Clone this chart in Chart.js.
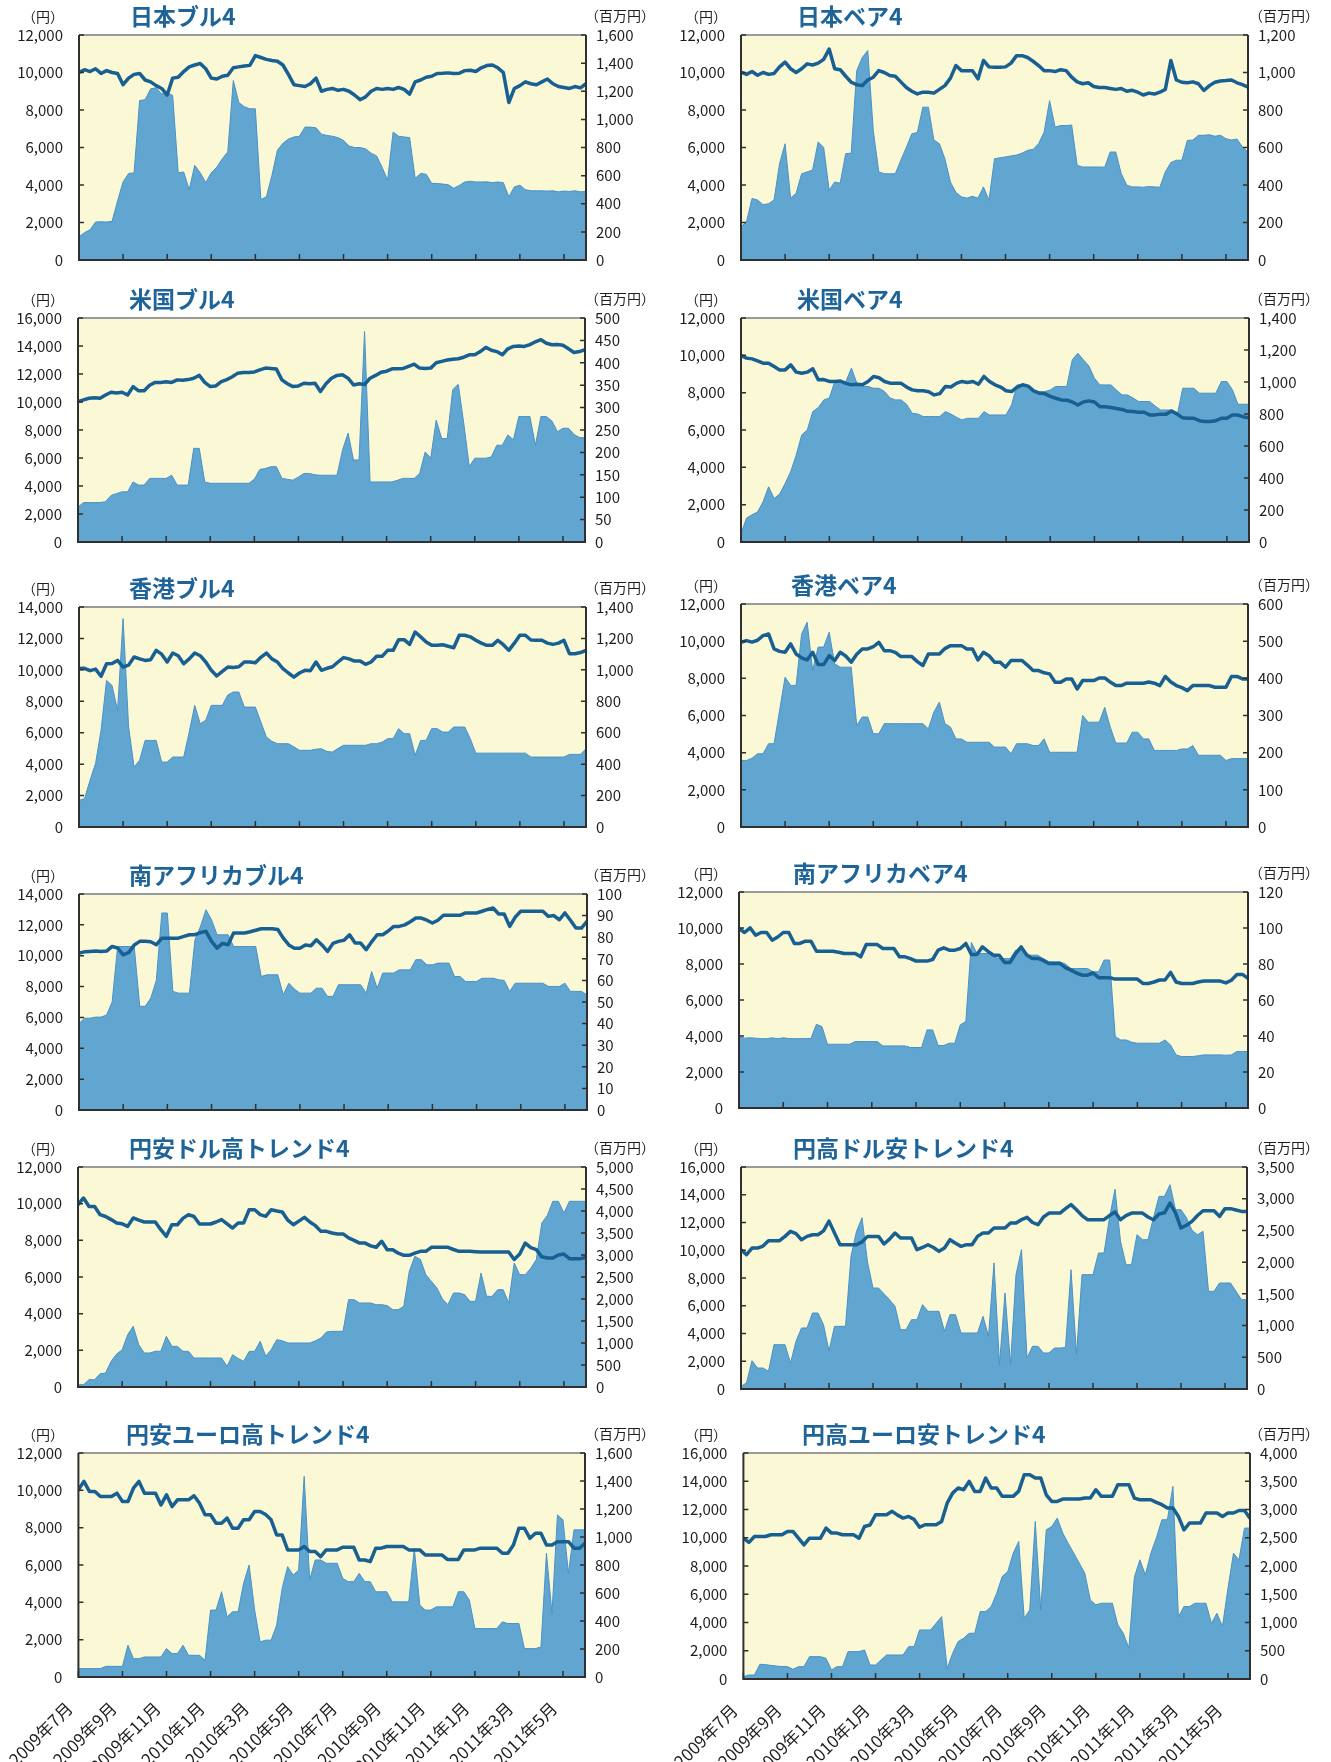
<!DOCTYPE html>
<html><head><meta charset="utf-8">
<script src="https://cdn.jsdelivr.net/npm/chart.js@4/dist/chart.umd.min.js"></script>
<style>
html,body{margin:0;padding:0;background:#fff;}
#wrap{position:relative;width:1331px;height:1762px;overflow:hidden;background:#fff;}
#wrap canvas{position:absolute;}
</style></head>
<body><div id="wrap"></div>
<script>
// ---- time grid: samples every quarter month from 2009年7月 ----
const STEP = 0.25;
const xTickMonths = [0,2,4,6,8,10,12,14,16,18,20,22];
const xTickLabels = ['2009年7月','2009年9月','2009年11月','2010年1月','2010年3月','2010年5月','2010年7月','2010年9月','2010年11月','2011年1月','2011年3月','2011年5月'];

// ---- 日本ブル4 ----
const jpBullPrice = [
10000,10150,10050,10200, 9950,10100,10000,9950, 9350,9700,9900,9950, 9600,9500,9300,9150,
8800,9700,9750,10050, 10300,10400,10480,10200, 9700,9650,9800,9850, 10250,10300,10350,10380,
10900,10800,10700,10640, 10600,10400,9900,9350, 9300,9250,9400,9700, 9000,9100,9150,9050,
9100,9000,8800,8550, 8700,9000,9150,9100, 9150,9100,9200,9100, 8850,9500,9600,9750,
9800,9950,9960,9980, 9950,9960,10100,10120, 10050,10250,10370,10400, 10250,10000,8400,9150,
9300,9500,9400,9350, 9500,9650,9400,9250, 9200,9150,9250,9180, 9400];
const jpBullAssets = [
165,195,215,270, 272,270,275,420, 555,615,620,1134, 1140,1217,1225,1180,
1190,1170,620,626, 500,673,620,550, 620,660,720,768, 1276,1120,1090,1075,
1075,430,449,600, 780,830,860,875, 880,945,945,940, 895,886,880,870,
850,810,800,800, 790,760,740,660, 567,910,880,875, 870,580,615,610,
545,544,540,535, 510,530,555,560, 555,555,556,550, 555,550,449,520,
532,500,492,492, 492,490,492,485, 490,488,492,485, 488];

// ---- 日本ベア4 ----
const jpBearPrice = [
10020,9900,10050,9850, 10000,9900,9950,10300, 10550,10200,10000,10200, 10460,10400,10500,10700,
11250,10200,10150,9800, 9480,9350,9300,9600, 9750,10100,10000,9840, 9800,9500,9200,9000,
8860,8950,8950,8900, 9100,9300,9700,10370, 10100,10100,10100,9660, 10640,10300,10280,10280,
10300,10500,10900,10900, 10800,10600,10370,10100, 10100,10050,10150,10100, 9750,9500,9400,9450,
9250,9200,9200,9150, 9100,9150,9000,9050, 8950,8800,8900,8850, 8950,9100,10640,9600,
9480,9450,9500,9400, 9040,9300,9480,9550, 9570,9600,9450,9350, 9220];
const jpBearAssets = [
177,204,328,320, 295,300,320,514, 620,330,355,460, 470,480,630,600,
372,416,410,567, 570,1010,1080,1117, 691,470,460,460, 460,532,600,673,
680,815,815,640, 620,540,416,360, 337,330,340,330, 390,319,540,545,
550,555,560,570, 585,590,620,682, 850,709,717,717, 720,505,496,496,
496,496,495,576, 576,460,399,390, 390,388,392,390, 388,470,520,532,
532,638,640,665, 665,668,660,665, 647,640,645,603, 576];

// ---- 米国ブル4 ----
const usBullPrice = [
10030,10150,10270,10300, 10270,10500,10700,10650, 10700,10500,11100,10800, 10800,11200,11400,11400,
11450,11400,11580,11550, 11600,11700,11900,11400, 11100,11150,11460,11600, 11800,12060,12100,12100,
12150,12300,12420,12400, 12350,11580,11300,11100, 11150,11340,11300,11340, 10750,11300,11700,11900,
11940,11700,11220,11300, 11250,11700,11900,12130, 12200,12370,12370,12400, 12550,12700,12420,12400,
12420,12800,12900,13000, 13050,13090,13200,13370, 13370,13600,13900,13700, 13600,13370,13800,13970,
14000,13970,14100,14300, 14450,14200,14090,14100, 14050,13800,13540,13600, 13730];
const usBullAssets = [
78,88,88,88, 88,90,104,108, 112,112,134,127, 127,142,142,142,
142,149,127,127, 127,209,209,134, 131,131,131,131, 131,131,131,131,
140,162,164,168, 168,142,140,138, 145,153,153,150, 149,149,149,149,
205,243,183,183, 470,134,134,134, 134,134,138,142, 142,142,153,201,
187,272,231,231, 340,352,265,168, 187,187,187,190, 216,216,239,228,
280,280,280,216, 280,280,270,246, 254,254,240,233, 233];

// ---- 米国ベア4 ----
const usBearPrice = [
9990,9850,9810,9700, 9580,9580,9400,9220, 9220,9490,9100,9040, 9100,9280,8690,8700,
8600,8600,8620,8500, 8420,8450,8420,8600, 8870,8800,8600,8510, 8500,8500,8300,8150,
8100,8100,8050,7880, 7950,8330,8300,8500, 8600,8550,8600,8450, 8870,8600,8420,8300,
8100,8060,8300,8420, 8350,8100,7970,7950, 7800,7700,7610,7600, 7500,7340,7500,7560,
7500,7250,7250,7200, 7150,7100,7000,6990, 6950,6950,6810,6810, 6850,6850,7020,6850,
6650,6630,6630,6500, 6450,6450,6500,6630, 6630,6810,6800,6700, 6660];
const usBearAssets = [
52,150,170,188, 251,345,272,300, 366,440,543,669, 700,815,840,888,
900,1003,1003,1003, 1087,990,972,972, 961,961,940,900, 888,888,860,805,
800,784,784,784, 784,815,800,780, 763,773,773,773, 815,794,794,794,
794,857,982,982, 960,940,940,940, 950,972,972,972, 1139,1180,1139,1100,
1024,982,982,982, 950,919,919,900, 878,878,878,850, 825,825,825,794,
961,961,961,930, 930,930,930,1003, 1003,951,861,861, 861];

// ---- 香港ブル4 ----
const hkBullPrice = [
10080,10100,9950,10050, 9590,10390,10400,10600, 10180,10300,10820,10700, 10600,10650,11240,11000,
10500,11070,10900,10390, 10700,11070,10900,10500, 9970,9610,9900,10180, 10150,10200,10500,10500,
10450,10800,11070,10700, 10500,10080,9800,9540, 9800,9970,9950,10500, 9970,10100,10200,10500,
10780,10700,10560,10560, 10350,10500,10860,10860, 11240,11240,11920,11920, 11620,12410,12100,11770,
11560,11560,11600,11500, 11410,12200,12200,12100, 11880,11700,11560,11560, 11880,11600,11240,11700,
12200,12200,11900,11880, 11880,11700,11620,11700, 11880,11030,11030,11100, 11240];
const hkBullAssets = [
170,180,297,403, 615,933,900,742, 1326,636,382,424, 551,551,551,413,
413,445,445,445, 604,774,657,679, 774,774,774,840, 859,859,763,763,
763,668,573,545, 530,530,530,510, 488,488,488,495, 498,480,477,500,
520,520,520,520, 520,530,530,540, 562,562,626,594, 594,456,551,551,
626,626,604,604, 636,636,636,562, 470,470,470,470, 470,470,470,470,
470,470,445,445, 445,445,445,445, 445,462,462,462, 498];

// ---- 香港ベア4 ----
const hkBearPrice = [
9940,10030,9950,10050, 10300,10390,9580,9450, 9400,9850,9310,9100, 8990,9400,8740,8740,
9220,8960,9400,9200, 8870,9300,9580,9580, 9700,9940,9490,9490, 9400,9170,9170,9170,
8900,8690,9310,9310, 9310,9600,9760,9760, 9760,9580,9580,8990, 9400,9220,8870,8870,
8600,8960,8960,8960, 8700,8420,8420,8300, 8240,7790,7790,7970, 7970,7430,7880,7880,
7880,8020,8020,7800, 7610,7610,7740,7740, 7740,7740,7800,7740, 7610,8100,7800,7610,
7500,7340,7610,7610, 7610,7610,7520,7520, 7520,8100,8100,7970, 7970];
const hkBearAssets = [
179,179,185,197, 197,224,224,313, 403,381,381,519, 551,421,484,484,
524,439,430,430, 430,273,296,296, 251,251,278,278, 278,278,278,278,
278,278,264,309, 336,278,269,237, 237,228,228,228, 228,228,215,215,
215,197,224,224, 224,219,219,237, 201,201,201,201, 201,201,300,282,
282,282,322,269, 226,226,226,255, 255,237,237,206, 206,206,206,206,
210,210,219,193, 193,193,193,193, 179,184,184,184, 184];

// ---- 南アフリカブル4 ----
const zaBullPrice = [
10170,10250,10280,10300, 10280,10300,10600,10500, 10060,10200,10700,10930, 10930,10900,10710,11140,
11140,11140,11140,11250, 11360,11360,11500,11580, 10930,10490,10800,10710, 11470,11470,11470,11550,
11650,11750,11750,11750, 11700,11140,10700,10490, 10490,10700,10650,11030, 10700,10280,10800,10930,
11000,11360,10820,10820, 10390,10900,11360,11360, 11600,11900,11900,12000, 12200,12440,12440,12300,
12120,12300,12620,12620, 12620,12620,12770,12770, 12770,12880,13000,13090, 12700,12700,11900,12500,
12880,12880,12880,12880, 12880,12550,12600,12330, 12770,12300,11790,11790, 12230];
const zaBullAssets = [
40,42.5,42.5,43, 43,44,50,75.7, 75.7,75.7,75.7,48, 48,51.8,60,91.2,
91.2,54.9,54.1,54.1, 54.1,78.8,85,92.7, 88.1,81.1,81.1,81.1, 75.7,75.7,75.7,75.7,
75.7,61.8,62.6,62.6, 62.6,53.3,58.7,56, 54.1,54.1,54.1,56.4, 56.4,52.6,52.6,58,
58,58,58,58, 54.1,64.1,56.4,63.4, 63.4,63.4,64.9,64.9, 64.9,69.6,69.6,67.2,
67.2,68,68,68, 61.8,61.8,59.5,59.5, 59.5,61,61,61, 60.3,60,54.9,58.7,
58.7,58.7,58.7,58.7, 58.7,57.2,57.2,57.2, 58.7,54.9,54.9,54.9, 53.3];

// ---- 南アフリカベア4 ----
const zaBearPrice = [
9970,9750,10010,9600, 9750,9750,9320,9500, 9750,9750,9140,9140, 9270,9270,8710,8710,
8710,8710,8650,8580, 8580,8580,8400,9080, 9080,9080,8860,8860, 8860,8400,8400,8300,
8160,8160,8160,8250, 8770,8900,8770,8770, 8860,9140,8530,8530, 8950,8700,8490,8490,
8090,8090,8580,8950, 8500,8310,8310,8200, 8030,8030,8030,7800, 7660,7500,7380,7380,
7500,7240,7240,7240, 7160,7160,7160,7160, 7160,6920,6920,7000, 7110,7110,7530,7000,
6920,6920,6920,7000, 7050,7050,7050,7050, 6950,7100,7420,7420, 7200];
const zaBearAssets = [
39.7,38.8,39,38.8, 38.5,38.5,39,38.5, 39,38.6,38.5,38.5, 38.6,38.6,46.5,45.2,
35.4,35.4,35.4,35.4, 35.4,36.9,36.9,36.9, 36.9,36.9,34.5,34.5, 34.5,34.5,34.5,33.6,
33.6,33.6,43.4,43.4, 34.7,34.7,36,36, 46.2,48,92,85.8, 85.8,85.8,84,83,
83,83,87.7,87.7, 84.9,84.9,84.9,83, 81.2,81.2,81.2,80, 77.5,77.5,77.5,77.5,
75.7,75.7,82.2,82.2, 39.7,37.8,37.8,36.5, 36,36,36,36, 36,37.8,35,29.5,
28.6,28.6,28.6,29, 29.5,29.5,29.5,29.5, 29.3,29.5,31.4,31.4, 31.4];

// ---- 円安ドル高トレンド4 ----
const weakYenUsdPrice = [
9950,10310,9850,9850, 9400,9300,9130,8950, 8900,8760,9220,9100, 9000,9000,9000,8580,
8220,8850,8850,9200, 9400,9300,8890,8890, 8890,9000,9130,8900, 8670,8950,8950,9670,
9670,9400,9310,9670, 9600,9550,9100,8850, 9050,9250,9000,8800, 8490,8490,8400,8350,
8350,8130,8000,7850, 7850,7700,7620,7950, 7490,7490,7300,7180, 7180,7300,7400,7400,
7620,7620,7620,7620, 7500,7400,7400,7400, 7380,7360,7360,7360, 7360,7360,7360,6950,
7250,7850,7600,7490, 7100,7040,7040,7200, 7250,7000,7000,7000, 7070];
const weakYenUsdAssets = [
53,53,167,167, 300,318,583,750, 848,1189,1379,962, 773,773,811,811,
1152,924,924,811, 811,659,659,659, 659,659,659,470, 735,650,583,811,
811,1038,697,850, 1076,1050,1000,1000, 1000,1000,1000,1050, 1114,1250,1265,1265,
1265,1985,1985,1909, 1909,1909,1871,1871, 1850,1758,1758,1833, 2629,2970,2900,2553,
2400,2250,2000,1871, 2136,2136,2100,1947, 1947,2591,2060,2060, 2212,2212,1909,2818,
2553,2553,2700,2894, 3727,3900,4220,4220, 3955,4220,4220,4220, 4220];

// ---- 円高ドル安トレンド4 ----
const strongYenUsdPrice = [
10040,9680,10160,10160, 10300,10690,10690,10690, 11000,11360,11200,10760, 11000,11120,11120,11400,
12100,11240,10400,10400, 10400,10400,10600,11000, 11000,11000,10450,10800, 11240,10880,10880,10880,
10040,10200,10400,10200, 9920,10160,10760,10500, 10280,10400,10400,11000, 11240,11240,11600,11600,
11600,11960,11960,12200, 12370,12000,11840,12400, 12680,12680,12680,13000, 13290,12920,12500,12200,
12200,12200,12200,12500, 12750,12200,12500,12680, 12680,12680,12400,12200, 12610,12700,13400,12700,
11600,11800,12080,12500, 12850,12850,12850,12440, 13000,13000,12900,12800, 12800];
const strongYenUsdAssets = [
42,95,447,331, 331,279,699,699, 699,410,751,962, 962,1198,1198,1014,
600,988,988,988, 2092,2486,2700,2000, 1592,1592,1500,1408, 1303,935,935,1093,
1093,1330,1225,1225, 1225,909,1172,1172, 883,883,883,883, 1146,830,1987,384,
1514,384,1803,2197, 489,673,673,568, 568,646,646,655, 1881,541,1803,1803,
1803,2144,2144,2700, 3150,2328,1960,1960, 2433,2354,2354,2700, 3037,3037,3221,2827,
2827,2700,2500,2433, 2486,1540,1540,1671, 1671,1671,1540,1408, 1408];

// ---- 円安ユーロ高トレンド4 ----
const weakYenEurPrice = [
10030,10480,9940,9940, 9670,9670,9670,9850, 9400,9400,10120,10480, 9850,9850,9850,9220,
9760,9130,9490,9490, 9490,9710,9310,8690, 8690,8240,8240,8510, 7970,7970,8420,8420,
8870,8870,8700,8420, 7610,7610,6810,6810, 6810,6990,6720,6720, 6450,6810,6810,6810,
6950,6950,6950,6270, 6270,6180,6900,6900, 6990,6990,6990,6990, 6810,6810,6810,6540,
6540,6540,6540,6300, 6300,6300,6810,6810, 6810,6900,6900,6900, 6900,6630,6630,7070,
7970,7970,7430,7700, 7700,7070,7070,7250, 7250,7250,6900,6900, 7160];
const weakYenEurAssets = [
60,60,60,60, 60,76,76,76, 76,227,131,131, 143,143,143,143,
203,167,167,227, 155,155,155,119, 478,478,609,430, 466,466,669,800,
480,251,263,263, 370,633,788,728, 764,1433,693,836, 836,812,812,812,
704,681,681,740, 681,681,609,609, 609,537,537,537, 537,919,513,478,
478,501,501,501, 501,609,609,549, 346,346,346,346, 346,394,382,382,
382,203,203,203, 215,884,454,1158, 1122,740,1051,1051, 1051];

// ---- 円高ユーロ安トレンド4 ----
const strongYenEurPrice = [
9970,9670,10090,10090, 10090,10210,10210,10210, 10450,10450,9970,9500, 9970,9970,9970,10680,
10330,10330,10210,10210, 10210,9970,10800,10900, 11630,11630,11630,11870, 11600,11390,11510,11300,
10750,10920,10920,10920, 11150,12450,13160,13520, 13400,13990,13280,13280, 14230,13520,13520,12930,
12930,12930,13300,14460, 14460,14230,14230,13040, 12570,12570,12740,12740, 12740,12740,12810,12810,
13400,12930,12930,12930, 13750,13750,13750,12810, 12690,12690,12690,12500, 12340,12100,12100,11510,
10560,11040,11040,11040, 11750,11750,11750,11510, 11750,11750,11930,11930, 11390];
const strongYenEurAssets = [
41,71,71,260, 255,240,230,220, 220,171,219,219, 396,396,396,366,
160,219,219,485, 485,485,514,248, 248,337,425,425, 425,425,573,573,
868,868,868,987, 1105,189,455,662, 721,809,809,1193, 1193,1282,1518,1814,
1900,2227,2434,1075, 1223,2789,1223,2641, 2700,2848,2582,2400, 2227,2050,1873,1400,
1312,1341,1341,1341, 957,809,544,1800, 2109,1843,2227,2500, 2818,2818,3409,1100,
1282,1282,1341,1341, 1341,987,1164,928, 1607,2227,2109,2671, 2671];

// ---- layout of the 12 panels (page pixels) ----
const panels = [
 {title:'日本ブル4', price:jpBullPrice, assets:jpBullAssets, yMax:12000, yStep:2000, rMax:1600, rStep:200, box:[0,0,665,285], plot:[79,35,586,261], titleX:130, labels:false},
 {title:'日本ベア4', price:jpBearPrice, assets:jpBearAssets, yMax:12000, yStep:2000, rMax:1200, rStep:200, box:[665,0,666,285], plot:[741,35,1248,261], titleX:797, labels:false},
 {title:'米国ブル4', price:usBullPrice, assets:usBullAssets, yMax:16000, yStep:2000, rMax:500, rStep:50, box:[0,285,665,285], plot:[78,318,585,542], titleX:129, labels:false},
 {title:'米国ベア4', price:usBearPrice, assets:usBearAssets, yMax:12000, yStep:2000, rMax:1400, rStep:200, box:[665,285,666,285], plot:[741,318,1249,542], titleX:797, labels:false},
 {title:'香港ブル4', price:hkBullPrice, assets:hkBullAssets, yMax:14000, yStep:2000, rMax:1400, rStep:200, box:[0,570,665,285], plot:[79,607,586,827], titleX:129, labels:false},
 {title:'香港ベア4', price:hkBearPrice, assets:hkBearAssets, yMax:12000, yStep:2000, rMax:600, rStep:100, box:[665,570,666,285], plot:[741,604,1248,827], titleX:791, labels:false},
 {title:'南アフリカブル4', price:zaBullPrice, assets:zaBullAssets, yMax:14000, yStep:2000, rMax:100, rStep:10, box:[0,855,665,280], plot:[79,894,587,1110], titleX:129, labels:false},
 {title:'南アフリカベア4', price:zaBearPrice, assets:zaBearAssets, yMax:12000, yStep:2000, rMax:120, rStep:20, box:[665,855,666,280], plot:[739,892,1248,1108], titleX:793, labels:false},
 {title:'円安ドル高トレンド4', price:weakYenUsdPrice, assets:weakYenUsdAssets, yMax:12000, yStep:2000, rMax:5000, rStep:500, box:[0,1135,665,285], plot:[78,1167,586,1387], titleX:129, labels:false},
 {title:'円高ドル安トレンド4', price:strongYenUsdPrice, assets:strongYenUsdAssets, yMax:16000, yStep:2000, rMax:3500, rStep:500, box:[665,1135,666,285], plot:[741,1167,1247,1389], titleX:793, labels:false},
 {title:'円安ユーロ高トレンド4', price:weakYenEurPrice, assets:weakYenEurAssets, yMax:12000, yStep:2000, rMax:1600, rStep:200, box:[0,1420,665,342], plot:[75,1453,585,1677], titleX:126, labels:true},
 {title:'円高ユーロ安トレンド4', price:strongYenEurPrice, assets:strongYenEurAssets, yMax:16000, yStep:2000, rMax:4000, rStep:500, box:[665,1420,666,342], plot:[741,1453,1250,1679], titleX:802, labels:true}
];

const FONT = '"Noto Sans CJK JP", "Noto Sans", sans-serif';
const TEXT = '#1e1e1e';
const wrap = document.getElementById('wrap');

function panelPlugin(p){
  const [bx,by] = p.box;
  const [pl,pt] = p.plot;
  const leftUnitX = (bx === 0 ? 22 : 685) - bx;
  const rightUnitX = (bx === 0 ? 585 : 1249) - bx;
  return {
    id:'panelDeco',
    beforeDatasetsDraw(chart){
      const {ctx, chartArea:a} = chart;
      ctx.save();
      ctx.fillStyle = '#faf8d5';
      ctx.fillRect(a.left, a.top, a.right-a.left, a.bottom-a.top);
      ctx.restore();
    },
    afterDatasetsDraw(chart){
      const {ctx, chartArea:a, scales} = chart;
      ctx.save();
      ctx.lineWidth = 2;
      ctx.strokeStyle = '#9a9a9a';
      ctx.beginPath(); ctx.moveTo(a.left, a.top); ctx.lineTo(a.right, a.top); ctx.stroke();
      ctx.strokeStyle = '#303030';
      ctx.beginPath(); ctx.moveTo(a.left, a.top); ctx.lineTo(a.left, a.bottom); ctx.lineTo(a.right, a.bottom); ctx.lineTo(a.right, a.top); ctx.stroke();
      ctx.lineWidth = 1.5;
      ctx.beginPath();
      scales.y.ticks.forEach(t => { const y = scales.y.getPixelForValue(t.value); ctx.moveTo(a.left, y); ctx.lineTo(a.left+5, y); });
      scales.y1.ticks.forEach(t => { const y = scales.y1.getPixelForValue(t.value); ctx.moveTo(a.right-5, y); ctx.lineTo(a.right, y); });
      scales.x.ticks.forEach(t => { const x = scales.x.getPixelForValue(t.value); ctx.moveTo(x, a.bottom); ctx.lineTo(x, a.bottom-6); });
      ctx.stroke();
      ctx.restore();
    },
    afterDraw(chart){
      const ctx = chart.ctx;
      const cy = pt - 19 - by;
      ctx.save();
      ctx.textBaseline = 'middle';
      ctx.textAlign = 'left';
      ctx.fillStyle = '#1f6498';
      ctx.font = 'bold 23px ' + FONT;
      ctx.fillText(p.title, p.titleX - bx, cy);
      ctx.fillStyle = TEXT;
      ctx.font = '14px ' + FONT;
      ctx.fillText('（円）', leftUnitX, cy + 1);
      ctx.fillText('（百万円）', rightUnitX, cy);
      ctx.restore();
    }
  };
}

panels.forEach(p => {
  const [bx,by,bw,bh] = p.box;
  const [pl,pt,pr,pb] = p.plot;
  const canvas = document.createElement('canvas');
  canvas.width = bw; canvas.height = bh;
  canvas.style.left = bx + 'px'; canvas.style.top = by + 'px';
  canvas.style.width = bw + 'px'; canvas.style.height = bh + 'px';
  wrap.appendChild(canvas);
  const leftW = pl - bx, rightW = bx + bw - pr, bottomH = by + bh - pb, topPad = pt - by;
  new Chart(canvas, {
    type:'line',
    data:{ datasets:[
      {label:'基準価額（円）', data:p.price.map((v,i)=>({x:i*STEP, y:v})), yAxisID:'y',
       borderColor:'#185f92', borderWidth:3.5, pointRadius:0, fill:false, tension:0, order:0,
       borderJoinStyle:'round', borderCapStyle:'round'},
      {label:'純資産総額（百万円）', data:p.assets.map((v,i)=>({x:i*STEP, y:v})), yAxisID:'y1',
       borderColor:'#4a92c6', borderWidth:1, backgroundColor:'#61a5d1', fill:'origin', pointRadius:0, tension:0, order:1}
    ]},
    options:{
      responsive:false, animation:false, devicePixelRatio:1,
      layout:{padding:{top:topPad, left:0, right:0, bottom:0}},
      plugins:{legend:{display:false}, tooltip:{enabled:false}, title:{display:false}},
      scales:{
        x:{type:'linear', position:'bottom', min:0, max:23,
           grid:{display:false, drawTicks:false}, border:{display:false},
           afterBuildTicks:s=>{ s.ticks = xTickMonths.map(v=>({value:v})); },
           afterFit:s=>{ s.height = bottomH; },
           ticks:{display:p.labels, autoSkip:false, minRotation:45, maxRotation:45, padding:21, labelOffset:-9,
                  color:TEXT, font:{family:FONT, size:17}, callback:(v,i)=>xTickLabels[i]}},
        y:{type:'linear', position:'left', min:0, max:p.yMax,
           grid:{display:false, drawTicks:false}, border:{display:false},
           afterFit:s=>{ s.width = leftW; },
           ticks:{stepSize:p.yStep, autoSkip:false, padding:16, color:TEXT, font:{family:FONT, size:15},
                  callback:v=>Number(v).toLocaleString('en-US')}},
        y1:{type:'linear', position:'right', min:0, max:p.rMax,
           grid:{display:false, drawTicks:false}, border:{display:false},
           afterFit:s=>{ s.width = rightW; },
           ticks:{stepSize:p.rStep, autoSkip:false, padding:10, color:TEXT, font:{family:FONT, size:15},
                  callback:v=>Number(v).toLocaleString('en-US')}}
      }
    },
    plugins:[panelPlugin(p)]
  });
});
</script>
</body></html>
